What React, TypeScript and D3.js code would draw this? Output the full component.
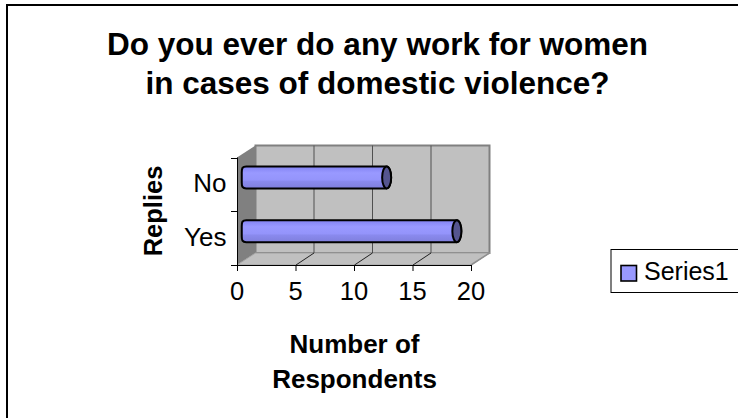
import React from "react";
import * as d3 from "d3";

const title = ["Do you ever do any work for women", "in cases of domestic violence?"];
const categories = ["No", "Yes"];
const values = [12, 18];
const xTicks = [0, 5, 10, 15, 20];
const seriesName = "Series1";
const yTitle = "Replies";
const xTitle = ["Number of", "Respondents"];

const FONT = "'Liberation Sans', Arial, sans-serif";
const depth = { dx: 18.5, dy: -12 };

const x = d3.scaleLinear().domain([0, 20]).range([237, 471]);
const y = d3.scaleBand<string>().domain(categories).range([157.5, 265]);

export default function App() {
  const left = x(0), right = x(20), top = y.range()[0], bottom = y.range()[1];
  const { dx, dy } = depth;
  const barH = 22;
  const gridColor = "#505050";

  return (
    <svg width={738} height={418} style={{ position: "absolute", left: 0, top: 0, background: "#fff" }} fontFamily={FONT}>
      <defs>
        <linearGradient id="tube" x1="0" y1="0" x2="0" y2="1">
          <stop offset="0" stopColor="#8282f2" />
          <stop offset="0.3" stopColor="#9999ff" />
          <stop offset="0.62" stopColor="#9494fb" />
          <stop offset="0.68" stopColor="#8a8aee" />
          <stop offset="1" stopColor="#7f7fdc" />
        </linearGradient>
      </defs>

      {/* chart area frame: only the top and left edges fall inside the canvas */}
      <path d="M7 418V5H738" fill="none" stroke="#000" strokeWidth={2} />

      {title.map((t, i) => (
        <text key={t} x={377.5} y={55 + i * 39} textAnchor="middle" fontSize={31.5} fontWeight={700}>{t}</text>
      ))}

      {/* back wall, side wall and floor of the 3D plot box */}
      <polygon points={`${left + dx},${top + dy} ${right + dx},${top + dy} ${right + dx},${bottom + dy} ${left + dx},${bottom + dy}`} fill="#c0c0c0" stroke="#808080" strokeWidth={2} />
      <polygon points={`${left},${top} ${left + dx},${top + dy} ${left + dx},${bottom + dy} ${left},${bottom}`} fill="#808080" />
      <polygon points={`${left},${bottom} ${left + dx},${bottom + dy} ${right + dx},${bottom + dy} ${right},${bottom}`} fill="#c0c0c0" stroke="#a0a0a0" strokeWidth={1} />
      <line x1={right} y1={bottom} x2={right + dx} y2={bottom + dy} stroke="#909090" strokeWidth={1.5} />

      {/* gridlines on the back wall and their returns across the floor */}
      {xTicks.filter(t => t > 0 && t < 20).map(t => (
        <g key={t} stroke={gridColor} strokeWidth={1}>
          <line x1={x(t) + dx} y1={top + dy} x2={x(t) + dx} y2={bottom + dy} />
          <line x1={x(t) + 0.5} y1={bottom} x2={x(t) + dx} y2={bottom + dy} stroke="#202020" />
        </g>
      ))}

      {/* axes */}
      <g stroke="#000" strokeWidth={1} fill="none">
        <line x1={left + 0.5} y1={top} x2={left + 0.5} y2={bottom + 6} />
        <line x1={left - 6} y1={bottom + 0.5} x2={right} y2={bottom + 0.5} />
        {xTicks.map(t => <line key={t} x1={x(t) + 0.5} y1={bottom} x2={x(t) + 0.5} y2={bottom + 6} />)}
        {[top, (top + bottom) / 2, bottom].map(v => <line key={v} x1={left - 6} y1={Math.round(v) + 0.5} x2={left} y2={Math.round(v) + 0.5} />)}
      </g>

      {/* cylinders sit halfway into the depth of the box */}
      {categories.map((c, i) => {
        const cy = y(c)! + y.bandwidth() / 2 - 7;
        const x0 = x(0) + dx / 2;
        const x1 = x(values[i]) + dx / 2;
        const rx = 4.5, ry = barH / 2;
        return (
          <g key={c} stroke="#000" strokeWidth={2}>
            <path
              d={`M${x0} ${cy - ry}H${x1}A${rx} ${ry} 0 0 1 ${x1} ${cy + ry}H${x0}C${x0 - 4} ${cy + ry} ${x0 - 4.5} ${cy + ry - 2} ${x0 - 4.5} ${cy + 5}V${cy - 5}C${x0 - 4.5} ${cy - ry + 2} ${x0 - 4} ${cy - ry} ${x0} ${cy - ry}Z`}
              fill="url(#tube)"
            />
            <ellipse cx={x1} cy={cy} rx={rx} ry={ry} fill="#55558f" />
          </g>
        );
      })}

      {xTicks.map(t => (
        <text key={t} x={x(t)} y={300} textAnchor="middle" fontSize={25.5}>{t}</text>
      ))}
      {categories.map(c => (
        <text key={c} x={226.5} y={y(c)! + y.bandwidth() / 2 + 8} textAnchor="end" fontSize={26}>{c}</text>
      ))}

      <text transform="translate(162,211) rotate(-90)" textAnchor="middle" fontSize={25.5} fontWeight={700}>{yTitle}</text>
      {xTitle.map((t, i) => (
        <text key={t} x={354.5} y={353 + i * 35} textAnchor="middle" fontSize={26} fontWeight={700}>{t}</text>
      ))}

      {/* legend box runs past the right edge of the canvas */}
      <rect x={611} y={249.5} width={140} height={43} fill="#fff" stroke="#000" strokeWidth={1} />
      <rect x={621} y={265.5} width={15.5} height={15.5} fill="#9999ff" stroke="#000" strokeWidth={1.6} />
      <text x={644} y={279.5} fontSize={25}>{seriesName}</text>
    </svg>
  );
}
